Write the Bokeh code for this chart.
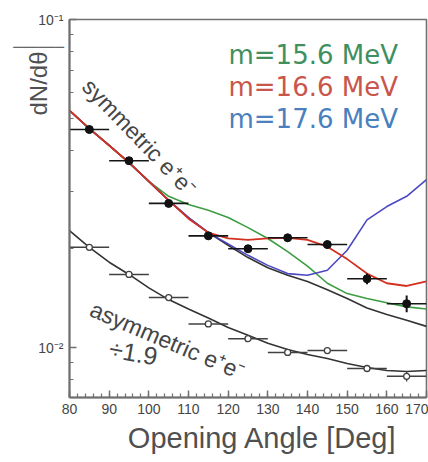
from bokeh.plotting import figure
from bokeh.models import Range1d, FixedTicker, SingleIntervalTicker, Label
from bokeh.embed import file_html
from bokeh.resources import INLINE

# ---------------- data ----------------
curve_angle = [80, 85, 90, 95, 100, 105, 110, 115, 120, 125, 130, 135, 140, 145, 150, 155, 160, 165, 170]
sym_bg = [0.0528, 0.0465, 0.0413, 0.0366, 0.0321, 0.0281, 0.0249, 0.0224, 0.0205, 0.0188,
          0.0175, 0.0166, 0.0159, 0.0150, 0.0141, 0.0132, 0.0126, 0.0121, 0.0116]
m156 = [0.0528, 0.0465, 0.0413, 0.0366, 0.0321, 0.0289, 0.0273, 0.0262, 0.0249, 0.0232,
        0.0215, 0.0196, 0.0177, 0.0157, 0.0146, 0.0141, 0.0137, 0.0133, 0.0131]
m166 = [0.0528, 0.0465, 0.0413, 0.0366, 0.0321, 0.0281, 0.0247, 0.0224, 0.0215, 0.0213,
        0.0215, 0.0216, 0.0213, 0.0203, 0.0186, 0.0168, 0.0157, 0.0154, 0.0159]
m176 = [0.0528, 0.0465, 0.0413, 0.0366, 0.0321, 0.0281, 0.0249, 0.0224, 0.0207, 0.0191,
        0.0178, 0.0168, 0.0166, 0.0172, 0.0198, 0.0245, 0.0269, 0.0289, 0.0325]
asym_bg = [0.0227, 0.0202, 0.0182, 0.0167, 0.0152, 0.0140, 0.0131, 0.0123, 0.0115, 0.0109,
           0.0103, 0.00986, 0.00952, 0.00926, 0.00894, 0.00869, 0.00851, 0.00845, 0.00851]

pt_angle = [85, 95, 105, 115, 125, 135, 145, 155, 165]
bin_half = [5, 5, 5, 5, 5, 5, 5, 5, 5]
sym_pts = [0.0462, 0.0371, 0.0275, 0.0219, 0.0200, 0.0216, 0.0206, 0.0162, 0.0136]
sym_err = [0.0012, 0.0009, 0.0007, 0.0006, 0.0005, 0.0006, 0.0006, 0.0006, 0.0008]
asym_pts = [0.0202, 0.0167, 0.0142, 0.0118, 0.01064, 0.00966, 0.00979, 0.00863, 0.00817]
asym_err = [0.0003, 0.0003, 0.0003, 0.0002, 0.0002, 0.0002, 0.0002, 0.0002, 0.0003]

x_ticks_interval = 10
y_major = [0.01, 0.1]
y_minor = [0.008, 0.009, 0.02, 0.03, 0.04, 0.05, 0.06, 0.07, 0.08, 0.09]
y_labels = {0.01: "10\u207b\u00b2", 0.1: "10\u207b\u00b9"}
mass_labels = ["m=15.6 MeV", "m=16.6 MeV", "m=17.6 MeV"]
x_title = "Opening Angle [Deg]"
y_title = "dN/d\u03b8"

# ---------------- styles ----------------
AX = "#707070"
TXT = "#454545"
GREEN, RED, BLUE = "#3c9e42", "#d3301f", "#4c48c4"
TGREEN, TRED, TBLUE = "#3f9060", "#c9564c", "#4a80bd"
FONT = "Liberation Sans"

p = figure(width=428, height=462, y_axis_type="log",
           x_range=Range1d(80, 170), y_range=Range1d(0.00704, 0.1),
           output_backend="svg", toolbar_location=None,
           min_border_left=69, min_border_right=2, min_border_top=19, min_border_bottom=65)
p.grid.visible = False
p.outline_line_color = AX
p.outline_line_width = 1.6

xa = p.xaxis[0]
xa.ticker = SingleIntervalTicker(interval=x_ticks_interval, num_minor_ticks=5)
ya = p.yaxis[0]
ya.ticker = FixedTicker(ticks=y_major, minor_ticks=y_minor)
ya.major_label_overrides = y_labels
for ax in (xa, ya):
    ax.axis_line_color = AX
    ax.axis_line_width = 2
    ax.major_tick_line_color = AX
    ax.minor_tick_line_color = AX
    ax.major_tick_line_width = 1.5
    ax.minor_tick_line_width = 1.2
    ax.major_tick_in = 7
    ax.major_tick_out = 0
    ax.minor_tick_in = 4
    ax.minor_tick_out = 0
    ax.major_label_text_font = FONT
    ax.major_label_text_color = TXT
    ax.major_label_text_font_size = "14px"
xa.major_label_standoff = 6
ya.major_label_standoff = 6

# curves
p.line(curve_angle, sym_bg, color="#333333", line_width=1.6)
p.line(curve_angle, m156, color=GREEN, line_width=1.6)
p.line(curve_angle, m176, color=BLUE, line_width=1.6)
p.line(curve_angle, m166, color=RED, line_width=1.8)
p.line(curve_angle, asym_bg, color="#333333", line_width=1.6)

# data points
sym_lo_x = [a - h for a, h in zip(pt_angle, bin_half)]
sym_hi_x = [a + h for a, h in zip(pt_angle, bin_half)]
p.segment(x0=sym_lo_x, y0=sym_pts, x1=sym_hi_x, y1=sym_pts, color="#151515", line_width=1.6)
p.segment(x0=pt_angle, y0=[v - e for v, e in zip(sym_pts, sym_err)],
          x1=pt_angle, y1=[v + e for v, e in zip(sym_pts, sym_err)], color="#151515", line_width=2)
p.scatter(pt_angle, sym_pts, marker="circle", size=8, color="#111111")

p.segment(x0=sym_lo_x, y0=asym_pts, x1=sym_hi_x, y1=asym_pts, color="#404040", line_width=1.5)
p.segment(x0=pt_angle, y0=[v - e for v, e in zip(asym_pts, asym_err)],
          x1=pt_angle, y1=[v + e for v, e in zip(asym_pts, asym_err)], color="#404040", line_width=1.3)
p.scatter(pt_angle, asym_pts, marker="circle", size=6, fill_color="white", line_color="#404040", line_width=1.3)

# texts outside the frame (side panels so that they are not clipped)
p.add_layout(Label(x=72.19, y=0.0638, text=y_title, angle=90, angle_units="deg",
                   text_align="center", text_baseline="middle", text_font=FONT,
                   text_font_size="24px", text_color="#505050"), "left")
p.add_layout(Label(x=72.19, y=0.0827, text="\u2500" * 6, text_align="center",
                   text_baseline="middle", text_font="DejaVu Sans", text_font_size="14px",
                   text_color="#666666"), "above")
p.add_layout(Label(x=128.65, y=0.00528, text=x_title, text_align="center",
                   text_baseline="middle", text_font=FONT, text_font_size="29px",
                   text_color="#505050"), "below")

# texts inside the frame
p.add_layout(Label(x=97.65, y=0.0437, text="symmetric e\u207ae\u207b", angle=-46, angle_units="deg",
                   text_align="center", text_baseline="middle", text_font=FONT,
                   text_font_size="23px", text_color=TXT))
p.add_layout(Label(x=104.7, y=0.0105, text="asymmetric e\u207ae\u207b", angle=-23, angle_units="deg",
                   text_align="center", text_baseline="middle", text_font=FONT,
                   text_font_size="23px", text_color=TXT))
p.add_layout(Label(x=96.1, y=0.00966, text="\u00f71.9", angle=-10, angle_units="deg",
                   text_align="center", text_baseline="middle", text_font=FONT,
                   text_font_size="25px", text_color=TXT))

for txt, yv, col in zip(mass_labels, [0.0777, 0.0621, 0.0499], [TGREEN, TRED, TBLUE]):
    p.add_layout(Label(x=120.08, y=yv, text=txt, text_align="left", text_baseline="middle",
                       text_font="DejaVu Sans", text_font_size="26px", text_color=col))

open("out.html", "w").write(file_html(p, INLINE))
